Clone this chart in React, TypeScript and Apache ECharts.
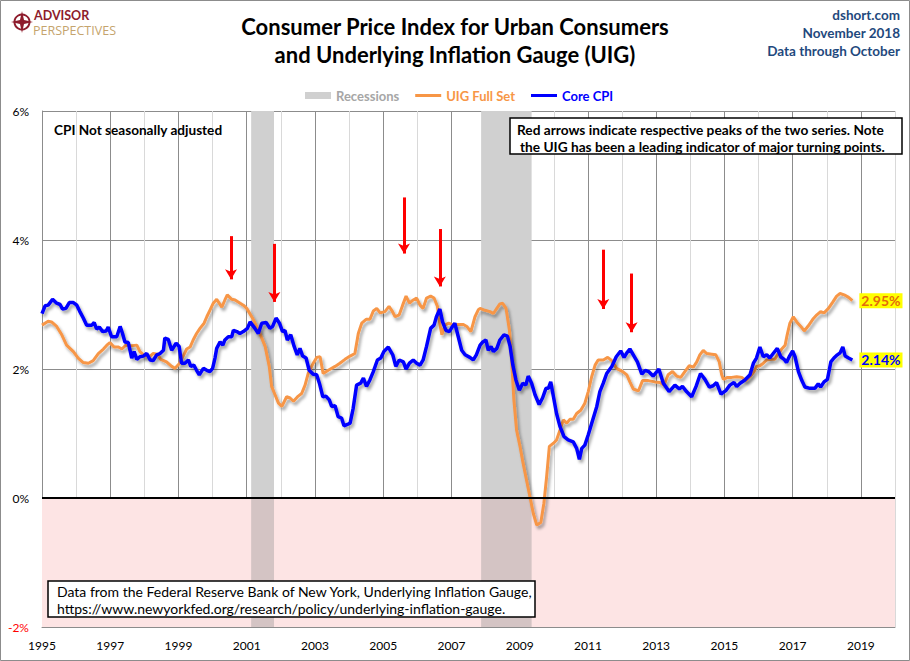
import React, { useEffect, useRef } from 'react';
import * as echarts from 'echarts';

// Core CPI, year-over-year %
const cpiYears = [
  1995.0, 1995.09, 1995.18, 1995.31, 1995.43, 1995.53, 1995.6, 1995.7, 1995.8, 1995.92,
  1996.02, 1996.11, 1996.21, 1996.31, 1996.46, 1996.53, 1996.6, 1996.68, 1996.78, 1996.88, 1996.94,
  1997.04, 1997.19, 1997.29, 1997.36, 1997.43, 1997.53, 1997.63, 1997.7, 1997.78, 1997.87, 1997.97,
  1998.07, 1998.17, 1998.26, 1998.36, 1998.46, 1998.56, 1998.6, 1998.7, 1998.8, 1998.93,
  1999.02, 1999.09, 1999.19, 1999.29, 1999.36, 1999.45, 1999.53, 1999.61, 1999.73, 1999.83, 1999.92,
  2000.0, 2000.07, 2000.12, 2000.22, 2000.3, 2000.36, 2000.46, 2000.56, 2000.61, 2000.71, 2000.8, 2000.9,
  2001.02, 2001.1, 2001.24, 2001.34, 2001.44, 2001.57, 2001.68, 2001.76, 2001.86, 2001.96,
  2002.05, 2002.12, 2002.19, 2002.29, 2002.39, 2002.48, 2002.56, 2002.64, 2002.74, 2002.83, 2002.95,
  2003.05, 2003.13, 2003.23, 2003.32, 2003.42, 2003.49, 2003.59, 2003.68, 2003.78, 2003.85, 2003.95,
  2004.03, 2004.12, 2004.22, 2004.34, 2004.42, 2004.51, 2004.61, 2004.71, 2004.83, 2004.93,
  2005.02, 2005.15, 2005.28, 2005.37, 2005.47, 2005.59, 2005.67, 2005.77, 2005.88, 2005.98,
  2006.08, 2006.17, 2006.27, 2006.39, 2006.49, 2006.56, 2006.66, 2006.74, 2006.84, 2006.94,
  2007.03, 2007.1, 2007.2, 2007.3, 2007.4, 2007.54, 2007.64, 2007.73, 2007.84, 2007.92,
  2008.01, 2008.08, 2008.16, 2008.23, 2008.33, 2008.42, 2008.54, 2008.64, 2008.72, 2008.8, 2008.89, 2008.99,
  2009.09, 2009.18, 2009.25, 2009.35, 2009.45, 2009.57, 2009.67, 2009.77, 2009.84, 2009.91, 2009.99,
  2010.08, 2010.18, 2010.3, 2010.42, 2010.57, 2010.67, 2010.75, 2010.82, 2010.91,
  2011.01, 2011.14, 2011.26, 2011.35, 2011.45, 2011.55, 2011.7, 2011.83, 2011.96,
  2012.06, 2012.14, 2012.23, 2012.33, 2012.45, 2012.58, 2012.68, 2012.78, 2012.91,
  2013.02, 2013.08, 2013.21, 2013.38, 2013.55, 2013.68, 2013.77, 2013.89,
  2014.04, 2014.17, 2014.3, 2014.43, 2014.56, 2014.67, 2014.77, 2014.9,
  2015.05, 2015.16, 2015.28, 2015.36, 2015.46, 2015.6, 2015.75, 2015.85, 2015.94,
  2016.04, 2016.14, 2016.24, 2016.33, 2016.43, 2016.55, 2016.65, 2016.75, 2016.82, 2016.9,
  2017.0, 2017.07, 2017.17, 2017.27, 2017.36, 2017.51, 2017.65, 2017.75, 2017.82, 2017.92,
  2018.02, 2018.12, 2018.21, 2018.31, 2018.39, 2018.47, 2018.54, 2018.64, 2018.75,
];
const cpiValues = [
  2.86, 2.98, 2.99, 3.08, 3.02, 3.0, 2.93, 2.94, 3.03, 3.03,
  2.99, 2.89, 2.79, 2.68, 2.68, 2.72, 2.62, 2.65, 2.58, 2.59, 2.65,
  2.5, 2.5, 2.66, 2.55, 2.42, 2.41, 2.17, 2.27, 2.15, 2.19, 2.2,
  2.24, 2.14, 2.13, 2.22, 2.24, 2.29, 2.48, 2.46, 2.29, 2.4,
  2.35, 2.09, 2.09, 2.14, 2.04, 2.06, 1.98, 1.91, 2.01, 1.98, 1.96,
  2.01, 2.17, 2.32, 2.42, 2.37, 2.45, 2.5, 2.5, 2.6, 2.58, 2.55, 2.58,
  2.63, 2.73, 2.63, 2.55, 2.71, 2.72, 2.63, 2.66, 2.79, 2.71,
  2.58, 2.6, 2.45, 2.53, 2.35, 2.22, 2.32, 2.2, 2.17, 1.98, 1.92,
  1.91, 1.78, 1.57, 1.58, 1.52, 1.42, 1.43, 1.26, 1.24, 1.12, 1.14,
  1.16, 1.39, 1.75, 1.78, 1.86, 1.73, 1.83, 1.96, 2.14, 2.17,
  2.27, 2.34, 2.22, 2.04, 2.14, 2.11, 2.0, 2.09, 2.14, 2.09,
  2.06, 2.14, 2.35, 2.63, 2.68, 2.81, 2.93, 2.73, 2.6, 2.58,
  2.66, 2.71, 2.5, 2.29, 2.22, 2.18, 2.14, 2.22, 2.37, 2.42,
  2.45, 2.29, 2.35, 2.27, 2.32, 2.45, 2.53, 2.51, 2.35, 2.06, 1.83, 1.67,
  1.78, 1.75, 1.89, 1.78, 1.6, 1.45, 1.55, 1.7, 1.7, 1.8, 1.57,
  1.31, 1.11, 0.95, 0.9, 0.87, 0.77, 0.6, 0.77, 0.82,
  0.98, 1.21, 1.42, 1.65, 1.78, 1.93, 2.04, 2.19, 2.28,
  2.18, 2.25, 2.31, 2.22, 2.11, 1.92, 1.98, 1.96, 1.89,
  1.96, 2.0, 1.78, 1.65, 1.75, 1.69, 1.73, 1.65,
  1.57, 1.73, 1.93, 1.84, 1.72, 1.74, 1.79, 1.61,
  1.67, 1.75, 1.79, 1.73, 1.78, 1.83, 1.91, 2.09, 2.17,
  2.34, 2.19, 2.22, 2.17, 2.24, 2.32, 2.19, 2.15, 2.1, 2.19,
  2.28, 2.19, 1.96, 1.82, 1.72, 1.7, 1.7, 1.77, 1.72, 1.8,
  1.84, 2.11, 2.17, 2.22, 2.25, 2.34, 2.2, 2.17, 2.14,
];

// Underlying Inflation Gauge, full data set
const uigYears = [
  1995.0, 1995.18, 1995.28, 1995.43, 1995.58, 1995.72, 1995.92,
  1996.06, 1996.21, 1996.36, 1996.5, 1996.65, 1996.8, 1996.9, 1996.99,
  1997.11, 1997.24, 1997.34, 1997.46, 1997.63, 1997.78, 1997.87,
  1998.02, 1998.17, 1998.26, 1998.38, 1998.48, 1998.65, 1998.8, 1998.9,
  1999.02, 1999.12, 1999.24, 1999.34, 1999.43, 1999.53, 1999.63, 1999.75, 1999.83, 1999.92,
  2000.02, 2000.12, 2000.27, 2000.36, 2000.43, 2000.56, 2000.66, 2000.75, 2000.9,
  2001.0, 2001.19, 2001.34, 2001.54, 2001.66, 2001.73, 2001.83, 2001.93,
  2002.03, 2002.17, 2002.27, 2002.37, 2002.51, 2002.61, 2002.71, 2002.8, 2002.95,
  2003.05, 2003.15, 2003.24, 2003.39, 2003.59, 2003.73, 2003.88,
  2004.03, 2004.17, 2004.27, 2004.37, 2004.5, 2004.61, 2004.71, 2004.81, 2004.91,
  2005.05, 2005.17, 2005.25, 2005.35, 2005.47, 2005.57, 2005.67, 2005.77, 2005.88, 2005.98,
  2006.08, 2006.17, 2006.27, 2006.39, 2006.49, 2006.59, 2006.64, 2006.72, 2006.81, 2006.92,
  2007.05, 2007.2, 2007.35, 2007.45, 2007.57, 2007.69, 2007.79, 2007.84, 2007.98,
  2008.13, 2008.23, 2008.33, 2008.42, 2008.5, 2008.6, 2008.7, 2008.77, 2008.83, 2008.91,
  2009.01, 2009.1, 2009.2, 2009.3, 2009.4, 2009.5, 2009.62, 2009.71, 2009.79, 2009.87, 2009.99,
  2010.08, 2010.18, 2010.28, 2010.38, 2010.47, 2010.57, 2010.67, 2010.79, 2010.91,
  2011.01, 2011.11, 2011.21, 2011.3, 2011.45, 2011.58, 2011.7, 2011.84,
  2012.02, 2012.14, 2012.23, 2012.33, 2012.48, 2012.6, 2012.77, 2012.96,
  2013.11, 2013.23, 2013.35, 2013.48, 2013.6, 2013.72, 2013.84, 2013.97,
  2014.09, 2014.19, 2014.28, 2014.38, 2014.48, 2014.63, 2014.75, 2014.85, 2014.92, 2014.97,
  2015.09, 2015.21, 2015.36, 2015.51, 2015.63, 2015.75, 2015.87, 2015.94,
  2016.04, 2016.14, 2016.24, 2016.39, 2016.48, 2016.58, 2016.68, 2016.78, 2016.84, 2016.92,
  2017.02, 2017.12, 2017.24, 2017.34, 2017.46, 2017.59, 2017.71, 2017.82, 2017.92,
  2018.05, 2018.18, 2018.29, 2018.39, 2018.51, 2018.64, 2018.75,
];
const uigValues = [
  2.68, 2.74, 2.73, 2.66, 2.53, 2.37, 2.27,
  2.17, 2.1, 2.09, 2.13, 2.24, 2.31, 2.37, 2.41,
  2.34, 2.34, 2.31, 2.37, 2.36, 2.37, 2.27,
  2.2, 2.2, 2.24, 2.23, 2.15, 2.11, 2.04, 2.01,
  2.08, 2.18, 2.31, 2.34, 2.45, 2.55, 2.63, 2.71, 2.81, 2.91,
  3.02, 3.08, 2.96, 3.07, 3.15, 3.08, 3.07, 3.04, 2.99,
  2.94, 2.77, 2.61, 2.35, 2.04, 1.73, 1.6, 1.47,
  1.42, 1.57, 1.55, 1.5, 1.58, 1.62, 1.75, 1.93, 2.09,
  2.18, 2.19, 1.93, 1.98, 2.04, 2.09, 2.15,
  2.2, 2.24, 2.55, 2.71, 2.77, 2.77, 2.9, 2.94, 2.87,
  2.89, 2.97, 2.91, 2.81, 2.84, 2.99, 3.13, 3.02, 3.07, 3.1,
  2.99, 2.94, 3.1, 3.13, 3.1, 2.97, 2.76, 2.53, 2.68, 2.71,
  2.68, 2.69, 2.69, 2.66, 2.58, 2.81, 2.92, 2.94, 2.91,
  2.89, 2.86, 2.94, 3.01, 3.02, 2.94, 2.6, 2.09, 1.52, 1.05,
  0.8, 0.54, 0.28, 0.02, -0.24, -0.42, -0.38, -0.08, 0.33, 0.8, 0.85,
  0.9, 1.05, 1.21, 1.16, 1.22, 1.22, 1.31, 1.36, 1.47,
  1.65, 1.88, 2.06, 2.14, 2.14, 2.18, 2.13, 2.01,
  1.96, 1.91, 1.8, 1.69, 1.66, 1.82, 1.82, 1.8,
  1.79, 1.75, 1.91, 1.96, 1.89, 1.87, 1.96, 2.05,
  2.03, 2.11, 2.22, 2.29, 2.24, 2.23, 2.22, 2.11, 1.91, 1.84,
  1.87, 1.87, 1.88, 1.87, 1.82, 1.88, 1.96, 2.04,
  2.05, 2.09, 2.14, 2.15, 2.15, 2.24, 2.31, 2.37, 2.53, 2.71,
  2.81, 2.73, 2.66, 2.59, 2.67, 2.77, 2.84, 2.89, 2.87,
  2.94, 3.04, 3.13, 3.17, 3.15, 3.11, 3.06,
];

const uigLastLabel = '2.95%';
const cpiLastLabel = '2.14%';

// NBER recessions (fractional years)
const recessionStarts = [2001.13, 2007.87];
const recessionEnds = [2001.8, 2009.35];

// red arrows: x position, top and tip values
const arrowYears = [2000.54, 2001.81, 2005.61, 2006.66, 2011.45, 2012.28];
const arrowTops = [4.06, 3.94, 4.66, 4.17, 3.85, 3.48];
const arrowTips = [3.39, 3.04, 3.79, 3.28, 2.93, 2.57];

const yTicks = [-2, 0, 2, 4, 6];

const FONT = 'Lato, "Open Sans", sans-serif';
const ORANGE = '#f79646';
const BLUE = '#0000ff';
const LINE_ICON = 'path://M0,0H26V3H0Z';

const App = () => {
  const chartRef = useRef(null);

  useEffect(() => {
    document.body.style.margin = '0';
    const myChart = echarts.init(chartRef.current, null, { renderer: 'svg' });

    const shadow = {
      shadowColor: 'rgba(0,0,0,0.35)',
      shadowBlur: 3,
      shadowOffsetX: 2,
      shadowOffsetY: 3,
    };

    const recessionAreas = [];
    recessionStarts.forEach((s, i) => {
      recessionAreas.push([
        { xAxis: s, yAxis: 0, itemStyle: { color: '#d0d0d0' } },
        { xAxis: recessionEnds[i], yAxis: 6 },
      ]);
      recessionAreas.push([
        { xAxis: s, yAxis: -2, itemStyle: { color: '#d4c4c4' } },
        { xAxis: recessionEnds[i], yAxis: 0 },
      ]);
    });

    const option = {
      animation: false,
      textStyle: { fontFamily: FONT },
      grid: { left: 42, right: 15, top: 111, bottom: 34 },
      legend: {
        left: 300,
        top: 84,
        itemWidth: 26,
        itemHeight: 7,
        itemGap: 16,
        textStyle: { fontFamily: FONT, fontWeight: 'bold', fontSize: 13 },
        data: [
          { name: 'Recessions', icon: 'rect', itemStyle: { color: '#d0d0d0' }, textStyle: { color: '#a6a6a6' } },
          { name: 'UIG Full Set', icon: LINE_ICON, itemStyle: { color: ORANGE }, textStyle: { color: ORANGE } },
          { name: 'Core CPI', icon: LINE_ICON, itemStyle: { color: BLUE }, textStyle: { color: BLUE } },
        ],
      },
      xAxis: {
        type: 'value',
        min: 1995,
        max: 2020,
        interval: 1,
        axisLine: { show: true, onZero: false, lineStyle: { color: '#8c8c8c' } },
        axisTick: { show: false },
        axisLabel: {
          margin: 12,
          fontSize: 12,
          color: '#000',
          fontFamily: FONT,
          formatter: (v) => (v % 2 === 1 ? String(v) : ''),
        },
        splitLine: { show: true, lineStyle: { color: ['#8c8c8c', '#d9d9d9'], width: 1 } },
      },
      yAxis: {
        type: 'value',
        min: yTicks[0],
        max: yTicks[yTicks.length - 1],
        interval: 2,
        axisLine: { show: true, lineStyle: { color: '#8c8c8c' } },
        axisTick: { show: false },
        axisLabel: {
          margin: 13,
          fontSize: 12,
          color: '#000',
          fontFamily: FONT,
          formatter: (v) => (v < 0 ? '{neg|' + v + '%}' : v + '%'),
          rich: { neg: { color: '#ff0000', fontSize: 12, fontFamily: FONT } },
        },
        splitLine: { show: true, lineStyle: { color: '#8c8c8c', width: 1 } },
      },
      series: [
        {
          name: 'bg',
          type: 'line',
          z: 1,
          data: [],
          markArea: {
            silent: true,
            data: [[{ yAxis: -2, itemStyle: { color: '#fde4e4' } }, { yAxis: 0 }]],
          },
        },
        {
          name: 'Recessions',
          type: 'line',
          z: 1,
          data: [],
          itemStyle: { color: '#d0d0d0' },
          lineStyle: { color: '#d0d0d0' },
          markArea: { silent: true, data: recessionAreas },
        },
        {
          name: 'zero',
          type: 'line',
          z: 2,
          data: [],
          markLine: {
            silent: true,
            symbol: 'none',
            label: { show: false },
            lineStyle: { color: '#000', width: 2, type: 'solid' },
            data: [{ yAxis: 0 }],
          },
        },
        {
          name: 'UIG Full Set',
          type: 'line',
          z: 3,
          showSymbol: false,
          symbol: 'none',
          color: ORANGE,
          lineStyle: { color: ORANGE, width: 3, ...shadow },
          data: uigYears.map((x, i) => [x, uigValues[i]]),
          endLabel: {
            show: true,
            formatter: () => uigLastLabel,
            color: '#e46c0a',
            backgroundColor: '#ffff00',
            fontWeight: 'bold',
            fontSize: 14,
            fontFamily: FONT,
            padding: [1, 2, 0, 2],
            distance: 7,
          },
        },
        {
          name: 'Core CPI',
          type: 'line',
          z: 4,
          showSymbol: false,
          symbol: 'none',
          color: BLUE,
          lineStyle: { color: BLUE, width: 3.5, ...shadow },
          data: cpiYears.map((x, i) => [x, cpiValues[i]]),
          endLabel: {
            show: true,
            formatter: () => cpiLastLabel,
            color: BLUE,
            backgroundColor: '#ffff00',
            fontWeight: 'bold',
            fontSize: 14,
            fontFamily: FONT,
            padding: [1, 2, 0, 2],
            distance: 7,
          },
        },
        {
          name: 'arrows',
          type: 'line',
          z: 5,
          data: [],
          markLine: {
            silent: true,
            symbol: ['none', 'arrow'],
            symbolSize: [9, 10],
            label: { show: false },
            lineStyle: { color: '#ff0000', width: 3, type: 'solid' },
            data: arrowYears.map((x, i) => [
              { coord: [x, arrowTops[i]] },
              { coord: [x, arrowTips[i]] },
            ]),
          },
        },
      ],
      graphic: [
        {
          type: 'rect',
          shape: { x: 0.5, y: 0.5, width: 909, height: 660 },
          style: { fill: 'none', stroke: '#8c8c8c', lineWidth: 1 },
          silent: true,
        },
        // logo
        {
          type: 'circle',
          shape: { cx: 22, cy: 22, r: 7.5 },
          style: { fill: 'none', stroke: '#8e1b2c', lineWidth: 2 },
        },
        {
          type: 'polygon',
          shape: {
            points: [
              [22, 11], [24, 20], [33, 22], [24, 24], [22, 33], [20, 24], [11, 22], [20, 20],
            ],
          },
          style: { fill: '#8e1b2c' },
        },
        {
          type: 'text',
          x: 34,
          y: 15,
          style: {
            text: 'ADVISOR',
            fill: '#8e1b2c',
            font: 'bold 12.5px ' + FONT,
            verticalAlign: 'middle',
          },
        },
        {
          type: 'text',
          x: 33,
          y: 30,
          style: {
            text: 'PERSPECTIVES',
            fill: '#c5a46d',
            font: '12.5px "Open Sans", sans-serif',
            verticalAlign: 'middle',
          },
        },
        // title
        {
          type: 'text',
          x: 455,
          y: 26,
          style: {
            text: 'Consumer Price Index for Urban Consumers',
            fill: '#000',
            font: 'bold 22px ' + FONT,
            align: 'center',
            verticalAlign: 'middle',
          },
        },
        {
          type: 'text',
          x: 455,
          y: 54,
          style: {
            text: 'and Underlying Inflation Gauge (UIG)',
            fill: '#000',
            font: 'bold 22px ' + FONT,
            align: 'center',
            verticalAlign: 'middle',
          },
        },
        // top right
        {
          type: 'text',
          x: 900,
          y: 15,
          style: { text: 'dshort.com', fill: '#1f497d', font: 'bold 13.5px ' + FONT, align: 'right', verticalAlign: 'middle' },
        },
        {
          type: 'text',
          x: 900,
          y: 33,
          style: { text: 'November 2018', fill: '#1f497d', font: 'bold 13.5px ' + FONT, align: 'right', verticalAlign: 'middle' },
        },
        {
          type: 'text',
          x: 900,
          y: 51,
          style: { text: 'Data through October', fill: '#1f497d', font: 'bold 13.5px ' + FONT, align: 'right', verticalAlign: 'middle' },
        },
        // notes
        {
          type: 'text',
          x: 54,
          y: 130,
          z: 10,
          style: { text: 'CPI Not seasonally adjusted', fill: '#000', font: 'bold 13.6px ' + FONT, verticalAlign: 'middle' },
        },
        {
          type: 'rect',
          z: 10,
          shape: { x: 510, y: 118, width: 392, height: 36 },
          style: { fill: '#fff', stroke: '#000', lineWidth: 1.5 },
        },
        {
          type: 'text',
          x: 517,
          y: 129,
          z: 11,
          style: {
            text: 'Red arrows indicate respective peaks of the two series. Note',
            fill: '#000',
            font: 'bold 13.7px ' + FONT,
            verticalAlign: 'middle',
          },
        },
        {
          type: 'text',
          x: 520,
          y: 146,
          z: 11,
          style: {
            text: 'the UIG has been a leading indicator of major turning points.',
            fill: '#000',
            font: 'bold 13.7px ' + FONT,
            verticalAlign: 'middle',
          },
        },
        {
          type: 'rect',
          z: 10,
          shape: { x: 48, y: 581, width: 487, height: 36 },
          style: { fill: '#fff', stroke: '#000', lineWidth: 1.5 },
        },
        {
          type: 'text',
          x: 57,
          y: 591,
          z: 11,
          style: {
            text: 'Data from the Federal Reserve Bank of New York, Underlying Inflation Gauge,',
            fill: '#000',
            font: '14px ' + FONT,
            verticalAlign: 'middle',
          },
        },
        {
          type: 'text',
          x: 57,
          y: 608,
          z: 11,
          style: {
            text: 'https://www.newyorkfed.org/research/policy/underlying-inflation-gauge.',
            fill: '#000',
            font: '14px ' + FONT,
            verticalAlign: 'middle',
          },
        },
      ],
    };

    myChart.setOption(option);

    return () => {
      myChart.dispose();
    };
  }, []);

  return <div ref={chartRef} style={{ width: '910px', height: '661px' }} />;
};

export default App;
